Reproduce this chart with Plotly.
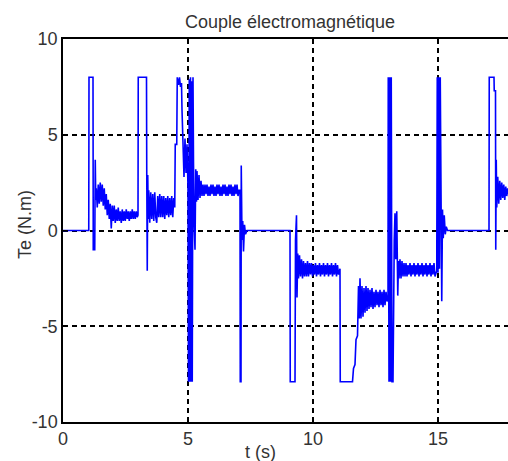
import plotly.graph_objects as go

# ---- data (time in s, torque in N.m) ----
t_start = [0.0, 1.03]
v_start = [0.0, 0.0]

t_p1 = [1.04, 1.20, 1.21, 1.27, 1.29, 1.31]
v_p1 = [8.0, 8.0, -1.0, -1.0, 3.7, 1.6]

t_r1a = [1.33, 1.37, 1.41, 1.45, 1.49, 1.53, 1.57, 1.61, 1.65, 1.69, 1.73, 1.77, 1.81, 1.85, 1.89, 1.93, 1.97]
v_r1a = [2.2, 1.2, 2.4, 1.4, 2.5, 1.5, 2.4, 1.3, 2.2, 1.1, 1.9, 0.8, 1.6, 0.6, 1.4, 0.1, 1.3]

t_r1b = [2.01, 2.05, 2.09, 2.13, 2.17, 2.21, 2.25, 2.29, 2.33, 2.37, 2.41, 2.45, 2.49, 2.53, 2.57, 2.61,
         2.65, 2.69, 2.73, 2.77, 2.81, 2.85, 2.89, 2.93, 2.97]
v_r1b = [0.5, 1.3, 0.4, 1.1, 0.5, 1.2, 0.5, 1.0, 0.4, 1.1, 0.5, 1.0, 0.5, 1.1, 0.6, 1.0,
         0.5, 1.0, 0.6, 1.1, 0.6, 1.0, 0.6, 1.0, 0.7]

t_p2 = [3.00, 3.01, 3.34, 3.35, 3.37, 3.39, 3.41]
v_p2 = [0.8, 8.0, 8.0, 3.0, -2.1, 2.9, 0.6]

t_r2 = [3.43, 3.47, 3.51, 3.55, 3.59, 3.63, 3.67, 3.71, 3.75, 3.79, 3.83, 3.87, 3.91, 3.95, 3.99, 4.03,
        4.07, 4.11, 4.15, 4.19, 4.23, 4.27, 4.31, 4.35, 4.39, 4.43, 4.47]
v_r2 = [2.1, 0.4, 2.0, 0.6, 1.9, 0.5, 2.0, 0.7, 0.4, 1.8, 0.7, 1.9, 0.7, 1.8, 0.7, 1.8,
        0.6, 1.7, 0.8, 1.8, 0.7, 1.7, 0.8, 1.8, 0.7, 1.7, 1.2]

t_c5 = [4.49, 4.55, 4.57, 4.62, 4.66, 4.70, 4.74, 4.76, 4.80, 4.84, 4.88, 4.92, 4.96, 5.00, 5.02, 5.05,
        5.07, 5.10, 5.12, 5.15, 5.17, 5.20, 5.22, 5.25, 5.28, 5.31, 5.34]
v_c5 = [4.5, 4.5, 8.0, 7.6, 8.0, 7.5, 7.7, 6.3, 4.6, 2.8, 4.8, 3.0, 4.5, 2.2, -7.9, 7.9,
        -7.9, 8.0, -7.9, 7.8, -7.9, 8.0, 3.5, 0.2, -1.0, 3.2, 1.5]

t_r3 = [5.36, 5.40, 5.44, 5.48, 5.52, 5.56, 5.60, 5.64, 5.68, 5.72, 5.76, 5.80, 5.84, 5.88, 5.92, 5.96,
        6.00, 6.04, 6.08, 6.12, 6.16, 6.20, 6.24, 6.28, 6.32, 6.36, 6.40, 6.44, 6.48, 6.52, 6.56, 6.60,
        6.64, 6.68, 6.72, 6.76, 6.80, 6.84, 6.88, 6.92, 6.96, 7.00, 7.04]
v_r3 = [3.1, 1.6, 2.9, 1.7, 2.6, 1.8, 2.4, 1.8, 2.4, 1.9, 2.4, 1.8, 2.3, 1.8, 2.4, 1.9,
        2.4, 1.8, 2.3, 1.8, 2.4, 1.9, 2.4, 1.8, 2.3, 1.8, 2.4, 1.9, 2.4, 1.8, 2.3, 1.8,
        2.4, 1.9, 2.4, 1.8, 2.3, 1.8, 2.4, 1.9, 2.4, 1.8, 2.1]

t_d7 = [7.08, 7.09, 7.12, 7.13, 7.16, 7.19, 7.22, 7.26, 7.30, 7.36, 9.08]
v_d7 = [2.1, -7.9, -7.9, 3.4, -0.5, 0.5, -1.1, 0.3, -0.2, 0.0, 0.0]

t_d9 = [9.09, 9.28, 9.30, 9.34, 9.36, 9.39]
v_d9 = [-7.9, -7.9, -0.5, 0.8, -3.5, -1.2]

t_r4 = [9.42, 9.46, 9.50, 9.54, 9.58, 9.62, 9.66, 9.70, 9.74, 9.78, 9.82, 9.86, 9.90, 9.94, 9.98, 10.02,
        10.06, 10.10, 10.14, 10.18, 10.22, 10.26, 10.30, 10.34, 10.38, 10.42, 10.46, 10.50, 10.54, 10.58,
        10.62, 10.66, 10.70, 10.74, 10.78, 10.82, 10.86, 10.90, 10.94, 10.98, 11.02, 11.06]
v_r4 = [-2.5, -1.3, -2.4, -1.5, -2.5, -1.6, -2.4, -1.7, -2.4, -1.6, -2.4, -1.7, -2.3, -1.7, -2.4, -1.8,
        -2.3, -1.7, -2.4, -1.8, -2.3, -1.7, -2.4, -1.8, -2.3, -1.7, -2.4, -1.8, -2.3, -1.7,
        -2.4, -1.8, -2.3, -1.7, -2.4, -1.8, -2.3, -1.7, -2.4, -1.8, -2.3, -2.0]

t_d11 = [11.08, 11.09, 11.58, 11.62, 11.68, 11.72, 11.78, 11.82, 11.85]
v_d11 = [-2.0, -7.9, -7.9, -7.2, -7.0, -5.7, -5.5, -2.9, -4.6]

t_r5 = [11.88, 11.92, 11.96, 12.00, 12.04, 12.08, 12.12, 12.16, 12.20, 12.24, 12.28, 12.32, 12.36, 12.40,
        12.44, 12.48, 12.52, 12.56, 12.60, 12.64, 12.68, 12.72, 12.76, 12.80, 12.84, 12.88, 12.92, 12.96]
v_r5 = [-2.5, -4.6, -2.9, -4.5, -3.0, -4.3, -2.9, -4.2, -3.0, -4.1, -3.1, -4.0, -3.0, -4.1,
        -3.2, -4.0, -3.1, -3.9, -3.2, -4.0, -3.1, -3.9, -3.2, -4.0, -3.1, -3.9, -3.2, -3.7]

t_u13 = [13.00, 13.01, 13.04, 13.07, 13.10, 13.13, 13.16, 13.20, 13.25, 13.28, 13.31, 13.35, 13.39, 13.42]
v_u13 = [-3.6, 8.0, -7.9, 8.0, -7.9, 8.0, -7.9, -7.9, -0.5, 0.9, -1.5, 1.0, -3.4, -1.6]

t_r6 = [13.44, 13.48, 13.52, 13.56, 13.60, 13.64, 13.68, 13.72, 13.76, 13.80, 13.84, 13.88, 13.92, 13.96,
        14.00, 14.04, 14.08, 14.12, 14.16, 14.20, 14.24, 14.28, 14.32, 14.36, 14.40, 14.44, 14.48, 14.52,
        14.56, 14.60, 14.64, 14.68, 14.72, 14.76, 14.80, 14.84, 14.88, 14.92]
v_r6 = [-2.5, -1.5, -2.5, -1.6, -2.4, -1.7, -2.4, -1.7, -2.4, -1.8, -2.3, -1.7, -2.4, -1.8,
        -2.3, -1.7, -2.4, -1.8, -2.3, -1.7, -2.4, -1.8, -2.3, -1.7, -2.4, -1.8, -2.3, -1.7,
        -2.4, -1.8, -2.3, -1.7, -2.4, -1.8, -2.3, -1.7, -2.4, -2.1]

t_u15 = [14.95, 14.97, 15.00, 15.03, 15.06, 15.09, 15.12, 15.15, 15.18, 15.21, 15.25, 15.29, 15.33, 15.38, 17.04]
v_u15 = [-2.1, 8.0, -2.2, 8.0, -2.0, 8.0, -1.6, -3.7, 1.1, -0.4, 0.8, -0.2, 0.2, 0.0, 0.0]

t_p3 = [17.05, 17.24, 17.25, 17.30, 17.31, 17.33, 17.35, 17.39, 17.43, 17.47, 17.51, 17.55, 17.59,
        17.63, 17.67, 17.71, 17.75, 17.79, 17.83]
v_p3 = [8.0, 8.0, 7.3, 7.3, -1.0, 3.7, 1.2, 2.8, 1.4, 2.6, 1.6, 2.5, 1.7, 2.4, 1.6, 2.3, 1.8, 2.2, 1.9]

x_ticks = [0, 5, 10, 15]
x_tick_labels = ["0", "5", "10", "15"]
y_ticks = [-10, -5, 0, 5, 10]
y_tick_labels = ["-10", "-5", "0", "5", "10"]
title_text = "Couple électromagnétique"
x_label = "t (s)"
y_label = "Te (N.m)"

segments_t = [t_start, t_p1, t_r1a, t_r1b, t_p2, t_r2, t_c5, t_r3, t_d7, t_d9, t_r4, t_d11, t_r5,
              t_u13, t_r6, t_u15, t_p3]
segments_v = [v_start, v_p1, v_r1a, v_r1b, v_p2, v_r2, v_c5, v_r3, v_d7, v_d9, v_r4, v_d11, v_r5,
              v_u13, v_r6, v_u15, v_p3]
t_all = [x for s in segments_t for x in s]
v_all = [y for s in segments_v for y in s]

FONT = "Liberation Sans, Arial, sans-serif"
TXT = "#333333"

fig = go.Figure()
fig.add_trace(go.Scatter(x=t_all, y=v_all, mode="lines",
                         line=dict(color="#0000ff", width=1.6), showlegend=False))

axis_common = dict(showgrid=True, gridcolor="#000000", gridwidth=1.5, griddash="5px,4px",
                   zeroline=False, showline=True, linecolor="#000000", linewidth=1.5,
                   ticks="inside", ticklen=5, tickcolor="#000000",
                   tickfont=dict(family=FONT, size=18, color=TXT))

fig.update_layout(
    width=508, height=461,
    margin=dict(l=63, r=0, t=39, b=39),
    paper_bgcolor="white", plot_bgcolor="white",
    xaxis=dict(range=[0, 17.8], tickvals=x_ticks, ticktext=x_tick_labels, mirror="ticks", **axis_common),
    yaxis=dict(range=[-10, 10], tickvals=y_ticks, ticktext=y_tick_labels, mirror=False, **axis_common),
    title=dict(text=title_text, x=290 / 508, xref="container", xanchor="center",
               y=1 - 22 / 461, yref="container", yanchor="middle",
               font=dict(family=FONT, size=18, color=TXT)),
    annotations=[
        dict(text=x_label, xref="paper", yref="paper", x=(260 - 63) / 445, y=-(452 - 422) / 383,
             xanchor="center", yanchor="middle", showarrow=False,
             font=dict(family=FONT, size=18, color=TXT)),
        dict(text=y_label, xref="paper", yref="paper", x=(25 - 63) / 445, y=(422 - 225) / 383,
             xanchor="center", yanchor="middle", showarrow=False, textangle=-90,
             font=dict(family=FONT, size=18, color=TXT)),
    ],
)

fig.write_html("out.html")
